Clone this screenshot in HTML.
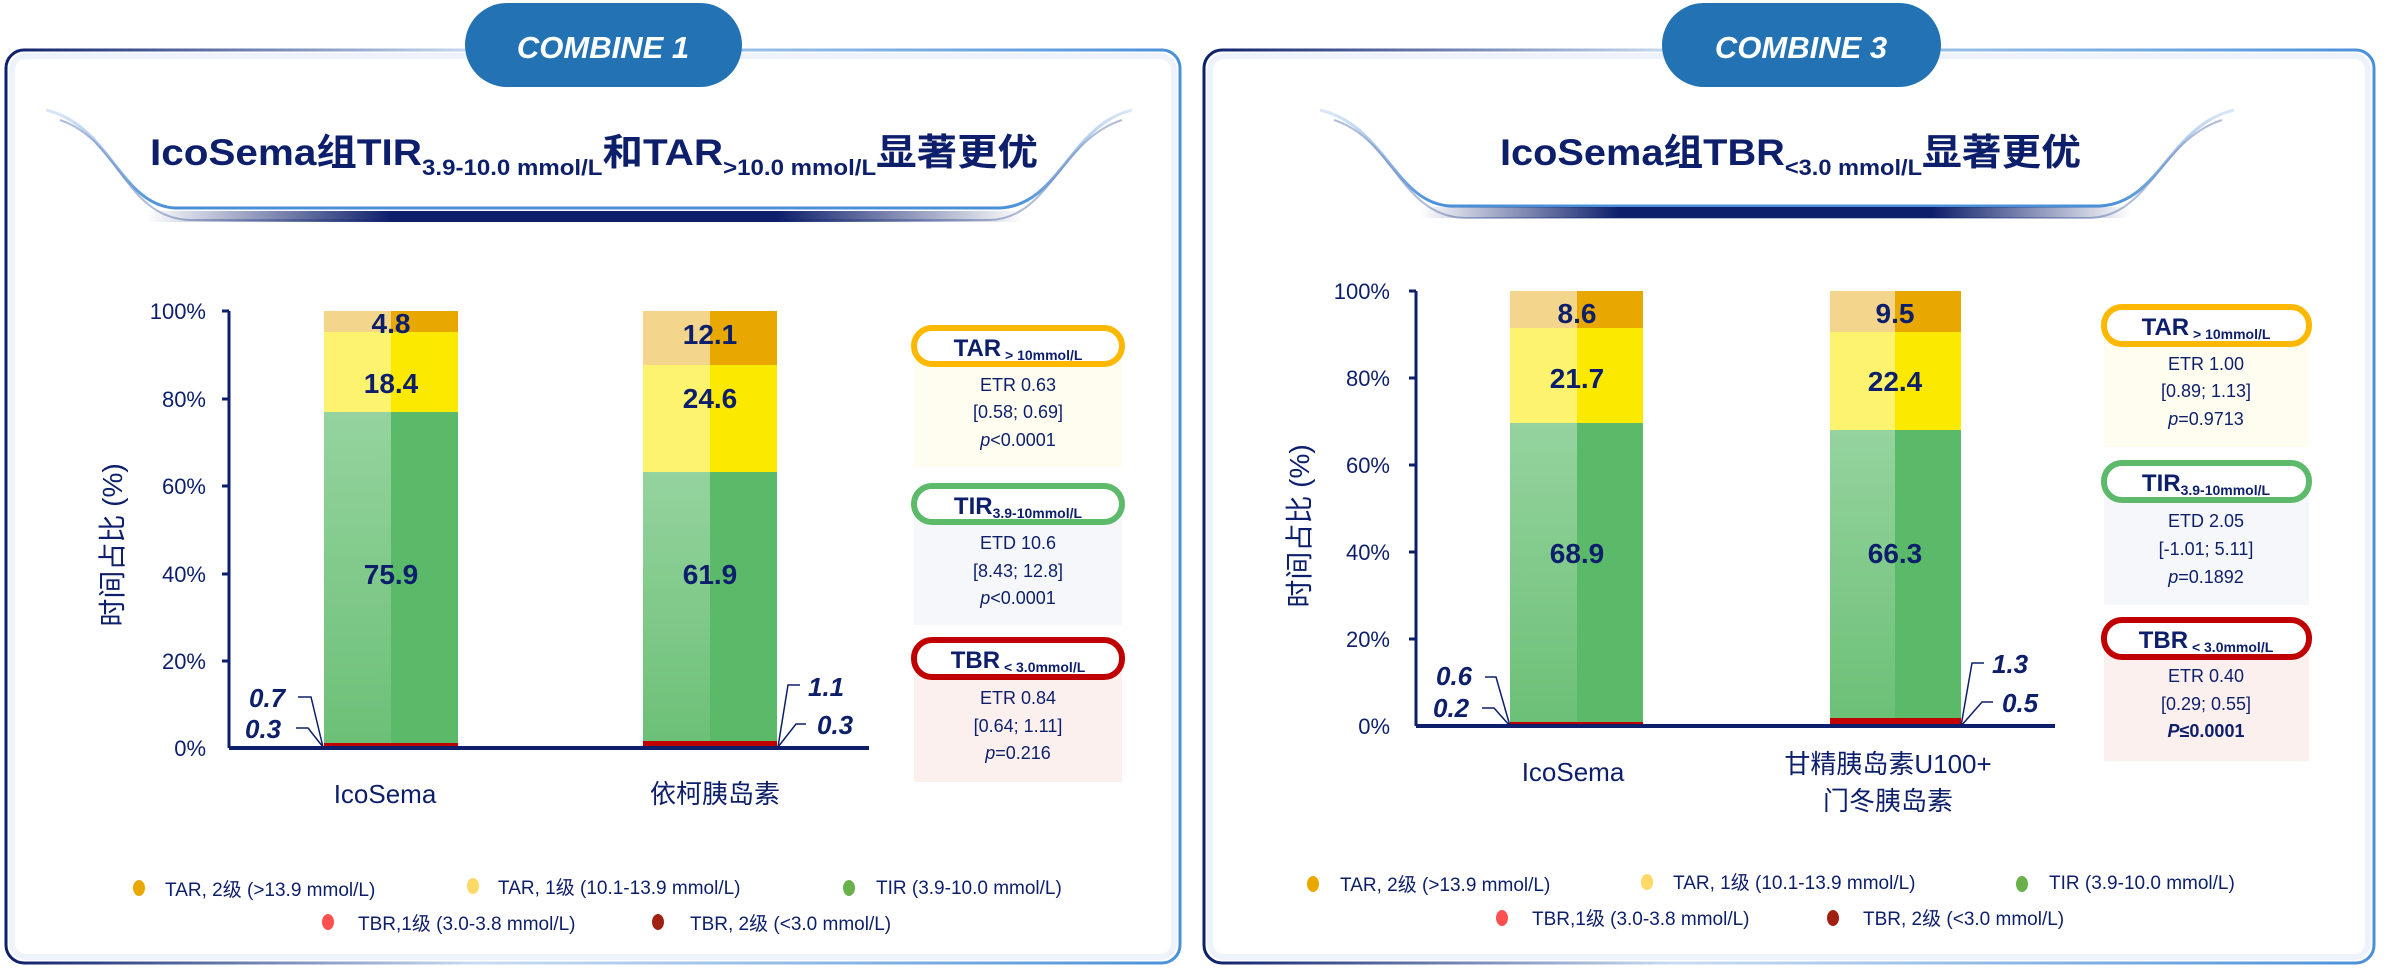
<!DOCTYPE html>
<html><head><meta charset="utf-8"><style>
html,body{margin:0;padding:0;background:#fff;width:2389px;height:971px;overflow:hidden}
svg text{font-family:"Liberation Sans","Noto Sans CJK SC",sans-serif;fill:#0d1f6b}
</style></head><body>
<svg width="2389" height="971" viewBox="0 0 2389 971" xmlns="http://www.w3.org/2000/svg">
<defs>
<linearGradient id="fr" x1="0" x2="1" y1="0" y2="0"><stop offset="0" stop-color="#0d1f6b"/><stop offset="0.4" stop-color="#c9dcf2"/><stop offset="1" stop-color="#4a90d9"/></linearGradient>
<linearGradient id="bar" x1="0" x2="1"><stop offset="0" stop-color="#0d1f6b" stop-opacity="0"/><stop offset="0.28" stop-color="#0d1f6b"/><stop offset="0.72" stop-color="#0d1f6b"/><stop offset="1" stop-color="#0d1f6b" stop-opacity="0"/></linearGradient>
<linearGradient id="gl" x1="0" y1="0" x2="0" y2="1"><stop offset="0" stop-color="#95d39e"/><stop offset="1" stop-color="#6cc077"/></linearGradient>
<linearGradient id="curve" x1="0" x2="0" y1="0" y2="1"><stop offset="0" stop-color="#dbe8f7"/><stop offset="1" stop-color="#4a90d9"/></linearGradient>
</defs>

<!-- panels -->
<rect x="6" y="50" width="1174" height="913" rx="18" fill="#fff" stroke="url(#fr)" stroke-width="3"/>
<rect x="12" y="56" width="1162" height="901" rx="14" fill="none" stroke="#eef3fb" stroke-width="6"/>
<rect x="1204" y="50" width="1170" height="913" rx="18" fill="#fff" stroke="url(#fr)" stroke-width="3"/>
<rect x="1210" y="56" width="1158" height="901" rx="14" fill="none" stroke="#eef3fb" stroke-width="6"/>

<!-- pills -->
<rect x="465" y="3" width="277" height="84" rx="42" fill="#2272b4"/>
<text x="603" y="58" text-anchor="middle" font-size="31" font-weight="bold" font-style="italic" style="fill:#fff">COMBINE 1</text>
<rect x="1662" y="3" width="279" height="84" rx="42" fill="#2272b4"/>
<text x="1801" y="58" text-anchor="middle" font-size="31" font-weight="bold" font-style="italic" style="fill:#fff">COMBINE 3</text>

<!-- banners -->
<path d="M46,110 C110,125 120,205 175,208 L1000,208 C1060,205 1070,125 1132,110" fill="none" stroke="url(#curve)" stroke-width="3"/>
<path d="M60,120 C120,140 125,218 190,220 L990,220 C1050,218 1060,140 1122,120" fill="none" stroke="#7d8fbd" stroke-width="2" opacity="0.6"/>
<rect x="146" y="211" width="877" height="11" fill="url(#bar)"/>
<path d="M1320,110 C1385,125 1395,203 1450,206 L2100,206 C2160,203 2170,125 2234,110" fill="none" stroke="url(#curve)" stroke-width="3"/>
<path d="M1334,120 C1395,140 1400,216 1465,218 L2090,218 C2150,216 2160,140 2222,120" fill="none" stroke="#7d8fbd" stroke-width="2" opacity="0.6"/>
<rect x="1420" y="207" width="711" height="11" fill="url(#bar)"/>

<!-- titles -->
<text x="150" y="165" font-size="37" font-weight="bold" textLength="888" lengthAdjust="spacingAndGlyphs">IcoSema组TIR<tspan font-size="22" dy="10">3.9-10.0 mmol/L</tspan><tspan dy="-10">和TAR</tspan><tspan font-size="22" dy="10">&gt;10.0 mmol/L</tspan><tspan dy="-10">显著更优</tspan></text>
<text x="1500" y="165" font-size="37" font-weight="bold" textLength="581" lengthAdjust="spacingAndGlyphs">IcoSema组TBR<tspan font-size="22" dy="10">&lt;3.0 mmol/L</tspan><tspan dy="-10">显著更优</tspan></text>

<!-- LEFT CHART -->
<g font-size="22" text-anchor="end">
<text x="206" y="319">100%</text><text x="206" y="407">80%</text><text x="206" y="494">60%</text><text x="206" y="582">40%</text><text x="206" y="669">20%</text><text x="206" y="756">0%</text>
</g>
<g stroke="#0d1f6b" stroke-width="3">
<line x1="222" y1="311" x2="229" y2="311"/><line x1="222" y1="399" x2="229" y2="399"/><line x1="222" y1="486" x2="229" y2="486"/><line x1="222" y1="574" x2="229" y2="574"/><line x1="222" y1="661" x2="229" y2="661"/>
<line x1="229" y1="311" x2="229" y2="748"/>
</g>
<text transform="translate(122,545) rotate(-90)" text-anchor="middle" font-size="28">时间占比 (%)</text>
<rect x="324" y="311" width="67" height="21" fill="#f3d68c"/><rect x="391" y="311" width="67" height="21" fill="#e8a800"/>
<rect x="324" y="332" width="67" height="80" fill="#fdf36e"/><rect x="391" y="332" width="67" height="80" fill="#fbe900"/>
<rect x="324" y="412" width="67" height="332" fill="url(#gl)"/><rect x="391" y="412" width="67" height="332" fill="#5bba6a"/>
<rect x="324" y="743" width="134" height="5" fill="#c00000"/>
<rect x="643" y="311" width="67" height="54" fill="#f3d68c"/><rect x="710" y="311" width="67" height="54" fill="#e8a800"/>
<rect x="643" y="365" width="67" height="107" fill="#fdf36e"/><rect x="710" y="365" width="67" height="107" fill="#fbe900"/>
<rect x="643" y="472" width="67" height="270" fill="url(#gl)"/><rect x="710" y="472" width="67" height="270" fill="#5bba6a"/>
<rect x="643" y="741" width="134" height="7" fill="#c00000"/>
<line x1="229" y1="748" x2="869" y2="748" stroke="#0d1f6b" stroke-width="4"/>
<g font-size="28" font-weight="bold" text-anchor="middle">
<text x="391" y="333">4.8</text><text x="391" y="393">18.4</text><text x="391" y="584">75.9</text>
<text x="710" y="344">12.1</text><text x="710" y="408">24.6</text><text x="710" y="584">61.9</text>
</g>
<g fill="none" stroke="#0d1f6b" stroke-width="1.5">
<polyline points="298,697 311,697 323,747"/><polyline points="296,728 308,728 323,747"/>
<polyline points="800,685 788,685 778,747"/><polyline points="806,724 796,724 778,747"/>
</g>
<g font-size="26" font-weight="bold" font-style="italic">
<text x="249" y="707">0.7</text><text x="245" y="738">0.3</text><text x="808" y="696">1.1</text><text x="817" y="734">0.3</text>
</g>
<g font-size="26" text-anchor="middle">
<text x="385" y="803">IcoSema</text><text x="715" y="803">依柯胰岛素</text>
</g>
<rect x="914" y="345" width="208" height="122" fill="#fffdf0"/>
<rect x="914" y="328" width="208" height="36" rx="18" fill="#fff" stroke="#ffb800" stroke-width="6"/>
<text x="1018" y="356" text-anchor="middle" font-size="24" font-weight="bold">TAR<tspan font-size="14" dy="4"> &gt; 10mmol/L</tspan></text>
<g font-size="18" text-anchor="middle"><text x="1018" y="391">ETR 0.63</text><text x="1018" y="418">[0.58; 0.69]</text><text x="1018" y="446"><tspan font-style="italic">p</tspan>&lt;0.0001</text></g>
<rect x="914" y="503" width="208" height="122" fill="#f5f7fa"/>
<rect x="914" y="486" width="208" height="36" rx="18" fill="#fff" stroke="#5dba6a" stroke-width="6"/>
<text x="1018" y="514" text-anchor="middle" font-size="24" font-weight="bold">TIR<tspan font-size="14" dy="4">3.9-10mmol/L</tspan></text>
<g font-size="18" text-anchor="middle"><text x="1018" y="549">ETD 10.6</text><text x="1018" y="577">[8.43; 12.8]</text><text x="1018" y="604"><tspan font-style="italic">p</tspan>&lt;0.0001</text></g>
<rect x="914" y="658" width="208" height="124" fill="#fcf0ef"/>
<rect x="914" y="640" width="208" height="37" rx="18" fill="#fff" stroke="#c00000" stroke-width="6"/>
<text x="1018" y="668" text-anchor="middle" font-size="24" font-weight="bold">TBR<tspan font-size="14" dy="4"> &lt; 3.0mmol/L</tspan></text>
<g font-size="18" text-anchor="middle"><text x="1018" y="704">ETR 0.84</text><text x="1018" y="732">[0.64; 1.11]</text><text x="1018" y="759"><tspan font-style="italic">p</tspan>=0.216</text></g>
<g font-size="19">
<ellipse cx="139" cy="888" rx="6" ry="8" fill="#e8a800"/><text x="165" y="896">TAR, 2级 (&gt;13.9 mmol/L)</text>
<ellipse cx="473" cy="886" rx="6" ry="8" fill="#ffd966"/><text x="498" y="894">TAR, 1级 (10.1-13.9 mmol/L)</text>
<ellipse cx="849" cy="888" rx="6" ry="8" fill="#6ab04c"/><text x="876" y="894">TIR (3.9-10.0 mmol/L)</text>
<ellipse cx="328" cy="922" rx="6" ry="8" fill="#ff5050"/><text x="358" y="930">TBR,1级 (3.0-3.8 mmol/L)</text>
<ellipse cx="658" cy="922" rx="6" ry="8" fill="#a02010"/><text x="690" y="930">TBR, 2级 (&lt;3.0 mmol/L)</text>
</g>

<!-- RIGHT CHART -->
<g font-size="22" text-anchor="end">
<text x="1390" y="299">100%</text><text x="1390" y="386">80%</text><text x="1390" y="473">60%</text><text x="1390" y="560">40%</text><text x="1390" y="647">20%</text><text x="1390" y="734">0%</text>
</g>
<g stroke="#0d1f6b" stroke-width="3">
<line x1="1409" y1="291" x2="1416" y2="291"/><line x1="1409" y1="378" x2="1416" y2="378"/><line x1="1409" y1="465" x2="1416" y2="465"/><line x1="1409" y1="552" x2="1416" y2="552"/><line x1="1409" y1="639" x2="1416" y2="639"/>
<line x1="1416" y1="291" x2="1416" y2="726"/>
</g>
<text transform="translate(1309,526) rotate(-90)" text-anchor="middle" font-size="28">时间占比 (%)</text>
<rect x="1510" y="291" width="67" height="37" fill="#f3d68c"/><rect x="1577" y="291" width="66" height="37" fill="#e8a800"/>
<rect x="1510" y="328" width="67" height="95" fill="#fdf36e"/><rect x="1577" y="328" width="66" height="95" fill="#fbe900"/>
<rect x="1510" y="423" width="67" height="300" fill="url(#gl)"/><rect x="1577" y="423" width="66" height="300" fill="#5bba6a"/>
<rect x="1510" y="722" width="133" height="4" fill="#c00000"/>
<rect x="1830" y="291" width="65" height="41" fill="#f3d68c"/><rect x="1895" y="291" width="66" height="41" fill="#e8a800"/>
<rect x="1830" y="332" width="65" height="98" fill="#fdf36e"/><rect x="1895" y="332" width="66" height="98" fill="#fbe900"/>
<rect x="1830" y="430" width="65" height="289" fill="url(#gl)"/><rect x="1895" y="430" width="66" height="289" fill="#5bba6a"/>
<rect x="1830" y="718" width="131" height="8" fill="#c00000"/>
<line x1="1416" y1="726" x2="2055" y2="726" stroke="#0d1f6b" stroke-width="4"/>
<g font-size="28" font-weight="bold" text-anchor="middle">
<text x="1577" y="323">8.6</text><text x="1577" y="388">21.7</text><text x="1577" y="563">68.9</text>
<text x="1895" y="323">9.5</text><text x="1895" y="391">22.4</text><text x="1895" y="563">66.3</text>
</g>
<g fill="none" stroke="#0d1f6b" stroke-width="1.5">
<polyline points="1485,677 1496,677 1510,726"/><polyline points="1482,708 1494,708 1510,726"/>
<polyline points="1984,663 1972,663 1961,726"/><polyline points="1993,702 1982,702 1961,726"/>
</g>
<g font-size="26" font-weight="bold" font-style="italic">
<text x="1436" y="685">0.6</text><text x="1433" y="717">0.2</text><text x="1992" y="673">1.3</text><text x="2002" y="712">0.5</text>
</g>
<g font-size="26" text-anchor="middle">
<text x="1573" y="781">IcoSema</text><text x="1888" y="773">甘精胰岛素U100+</text><text x="1888" y="810">门冬胰岛素</text>
</g>
<rect x="2104" y="324" width="205" height="123" fill="#fffdf0"/>
<rect x="2104" y="307" width="205" height="37" rx="18" fill="#fff" stroke="#ffb800" stroke-width="6"/>
<text x="2206" y="335" text-anchor="middle" font-size="24" font-weight="bold">TAR<tspan font-size="14" dy="4"> &gt; 10mmol/L</tspan></text>
<g font-size="18" text-anchor="middle"><text x="2206" y="370">ETR 1.00</text><text x="2206" y="397">[0.89; 1.13]</text><text x="2206" y="425"><tspan font-style="italic">p</tspan>=0.9713</text></g>
<rect x="2104" y="481" width="205" height="124" fill="#f5f7fa"/>
<rect x="2104" y="463" width="205" height="37" rx="18" fill="#fff" stroke="#5dba6a" stroke-width="6"/>
<text x="2206" y="491" text-anchor="middle" font-size="24" font-weight="bold">TIR<tspan font-size="14" dy="4">3.9-10mmol/L</tspan></text>
<g font-size="18" text-anchor="middle"><text x="2206" y="527">ETD 2.05</text><text x="2206" y="555">[-1.01; 5.11]</text><text x="2206" y="583"><tspan font-style="italic">p</tspan>=0.1892</text></g>
<rect x="2104" y="638" width="205" height="123" fill="#fcf0ef"/>
<rect x="2104" y="620" width="205" height="37" rx="18" fill="#fff" stroke="#c00000" stroke-width="6"/>
<text x="2206" y="648" text-anchor="middle" font-size="24" font-weight="bold">TBR<tspan font-size="14" dy="4"> &lt; 3.0mmol/L</tspan></text>
<g font-size="18" text-anchor="middle"><text x="2206" y="682">ETR 0.40</text><text x="2206" y="710">[0.29; 0.55]</text><text x="2206" y="737" font-weight="bold"><tspan font-style="italic">P</tspan>≤0.0001</text></g>
<g font-size="19">
<ellipse cx="1313" cy="884" rx="6" ry="8" fill="#e8a800"/><text x="1340" y="891">TAR, 2级 (&gt;13.9 mmol/L)</text>
<ellipse cx="1647" cy="882" rx="6" ry="8" fill="#ffd966"/><text x="1673" y="889">TAR, 1级 (10.1-13.9 mmol/L)</text>
<ellipse cx="2022" cy="884" rx="6" ry="8" fill="#6ab04c"/><text x="2049" y="889">TIR (3.9-10.0 mmol/L)</text>
<ellipse cx="1502" cy="918" rx="6" ry="8" fill="#ff5050"/><text x="1532" y="925">TBR,1级 (3.0-3.8 mmol/L)</text>
<ellipse cx="1833" cy="918" rx="6" ry="8" fill="#a02010"/><text x="1863" y="925">TBR, 2级 (&lt;3.0 mmol/L)</text>
</g>
</svg>
</body></html>
